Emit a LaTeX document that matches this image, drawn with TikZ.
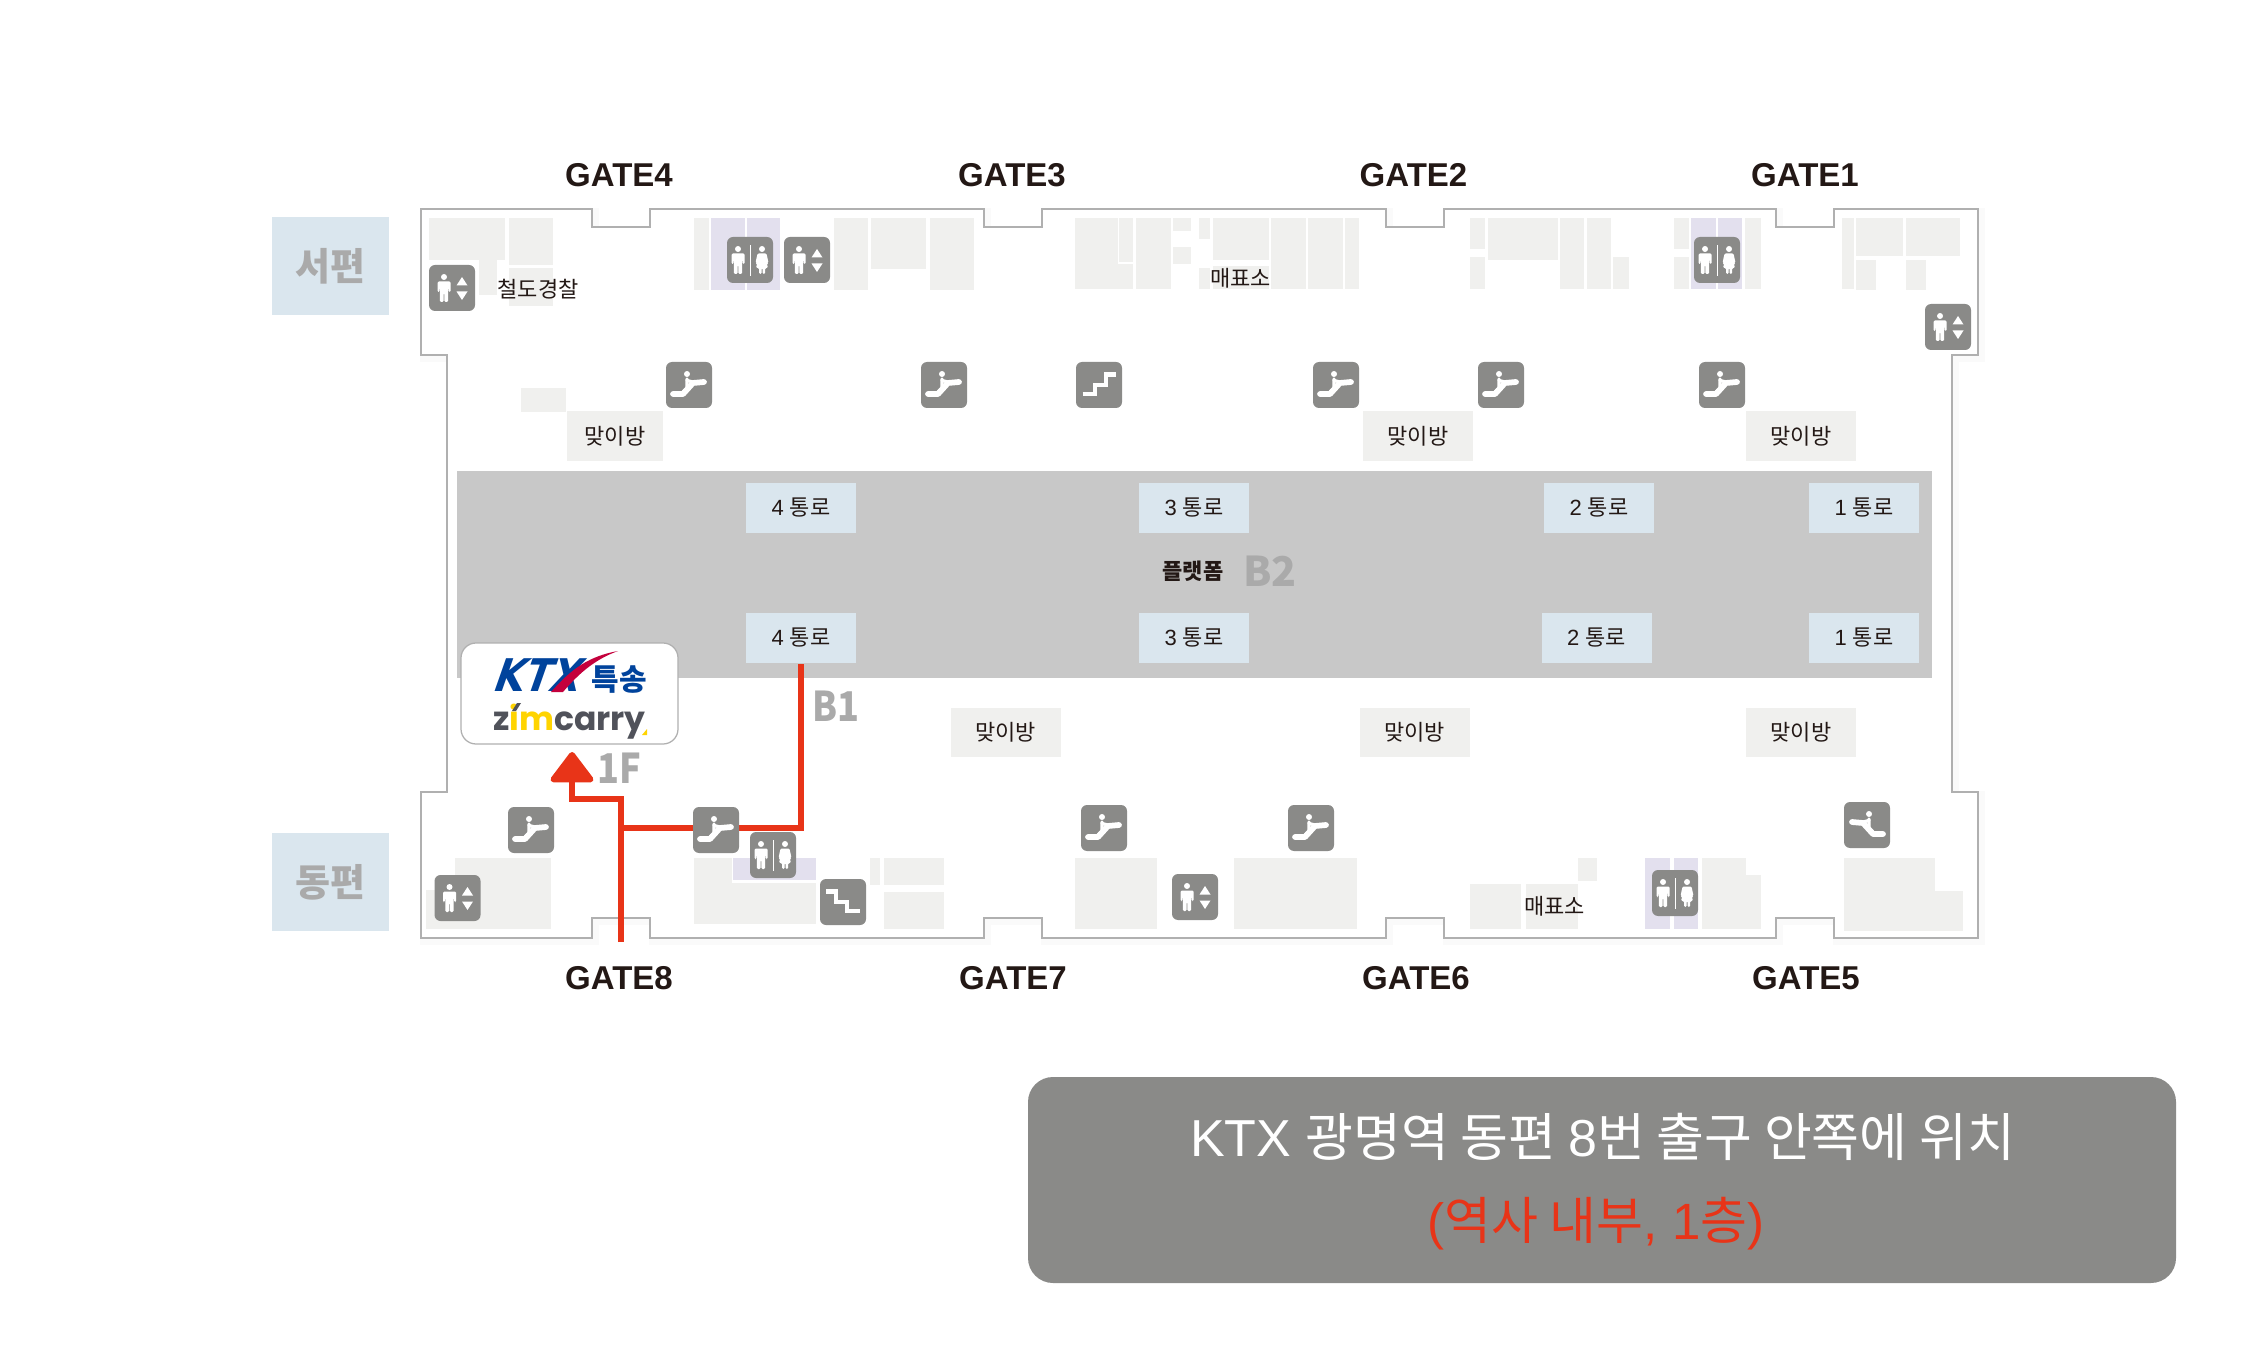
\documentclass[tikz,border=0pt]{standalone}
\usepackage{fontspec}
\setmainfont{Noto Sans CJK KR}
\newfontfamily\logofont{Poppins}
\newfontfamily\latinf{Liberation Sans}
\newfontfamily\heavyf{DejaVu Sans}
\newcommand\lat[1]{{\latinf #1}}
\usetikzlibrary{arrows.meta}
\definecolor{inkc}{HTML}{231815}
\definecolor{blockc}{HTML}{F0F0EE}
\definecolor{wcc}{HTML}{E3E0EE}
\definecolor{platc}{HTML}{C8C8C8}
\definecolor{paleblue}{HTML}{DAE6EE}
\definecolor{iconc}{HTML}{8A8A88}
\definecolor{wallc}{HTML}{B0B0B0}
\definecolor{floorc}{HTML}{AAAAAA}
\definecolor{redc}{HTML}{E83418}
\definecolor{ktxblue}{HTML}{00439C}
\definecolor{ktxred}{HTML}{C4003C}
\definecolor{zimgray}{HTML}{50525A}
\definecolor{zimyellow}{HTML}{FFD400}
\tikzset{
  gatelabel/.style={font=\fontsize{13.2}{15}\latinf\bfseries,text=inkc,inner sep=0pt},
  floorlabel/.style={font=\fontsize{16.4}{18}\selectfont\bfseries,text=floorc,inner sep=0pt},
  sidebox/.style={fill=paleblue,minimum width=46.8pt,minimum height=39.2pt,inner sep=0pt,text=floorc,font=\fontsize{15.2}{17}\selectfont\bfseries},
  corridor/.style={fill=paleblue,minimum width=44pt,minimum height=20pt,inner sep=0pt,text=inkc,font=\fontsize{8.8}{10}\selectfont},
  waitroom/.style={fill=blockc,minimum width=44pt,minimum height=20pt,inner sep=0pt,text=inkc,font=\fontsize{8.8}{10}\selectfont},
  maplabel/.style={inner sep=0pt,text=inkc,font=\fontsize{8.8}{10}\selectfont},
  wall/.style={draw=wallc,line width=0.7pt,fill=white,line join=miter},
  route/.style={draw=redc,line width=2.4pt,line join=miter},
  iconbox/.style={fill=iconc,rounded corners=2.4pt},
  pics/iconesc/.style={code={
    \fill[iconbox] (0,0) rectangle (46,46);
    \fill[white] (21,12) circle (3);
    \draw[white,line width=2.3pt,line cap=round,line join=round] (7,32) -- (17,32) -- (27,21) -- (38,20);
    \draw[white,line width=1.3pt,line cap=round] (21,17) -- (21,26) -- (17,30);
    \draw[white,line width=1.3pt,line cap=round] (21,18.5) -- (27,20);
  }},
  pics/iconstair/.style={code={
    \fill[iconbox] (0,0) rectangle (46,46);
    \draw[white,line width=1.7pt,line join=miter] (6.5,32) -- (19,32) -- (19,23) -- (30,23) -- (30,12.5) -- (40,12.5);
  }},
  pics/iconelev/.style={code={
    \fill[iconbox] (0,0) rectangle (46,46);
    \begin{scope}[shift={(15,0)}]
      \fill[white] (0,12) circle (3);
      \fill[white,rounded corners=0.5pt] (-6.5,16.5) -- (6.5,16.5) -- (6.5,27) -- (4.8,27) -- (4.2,21) -- (4.2,37) -- (0.4,37) -- (0.4,28) -- (-0.4,28) -- (-0.4,37) -- (-4.2,37) -- (-4.2,21) -- (-4.8,27) -- (-6.5,27) -- cycle;
    \end{scope}
    \fill[white] (33,12) -- (38.5,20.5) -- (27.5,20.5) -- cycle;
    \fill[white] (33,35) -- (38.5,26.5) -- (27.5,26.5) -- cycle;
  }},
  pics/iconwc/.style={code={
    \fill[iconbox] (0,0) rectangle (46,46);
    \begin{scope}[shift={(11,0)}]
      \fill[white] (0,12) circle (3);
      \fill[white,rounded corners=0.5pt] (-6.5,16.5) -- (6.5,16.5) -- (6.5,27) -- (4.8,27) -- (4.2,21) -- (4.2,37) -- (0.4,37) -- (0.4,28) -- (-0.4,28) -- (-0.4,37) -- (-4.2,37) -- (-4.2,21) -- (-4.8,27) -- (-6.5,27) -- cycle;
    \end{scope}
    \draw[white,line width=0.4pt] (23,8) -- (23,39);
    \begin{scope}[shift={(35,0)}]
      \fill[white] (0,12) circle (3);
      \fill[white,rounded corners=0.5pt] (-4.5,16.5) -- (4.5,16.5) -- (6.5,26) -- (4.8,26.5) -- (6,31) -- (3,31) -- (3,37) -- (0.5,37) -- (0.5,31) -- (-0.5,31) -- (-0.5,37) -- (-3,37) -- (-3,31) -- (-6,31) -- (-4.8,26.5) -- (-6.5,26) -- cycle;
    \end{scope}
  }}
}
\begin{document}
\begin{tikzpicture}[x=0.4pt,y=-0.4pt]
\useasboundingbox (0,0) rectangle (2250,1350);
\fill[white] (0,0) rectangle (2250,1350);
% outline of the concourse
\def\hallpath{(421,209) -- (592,209) -- (592,227) -- (650,227) -- (650,209) -- (984,209) -- (984,227) -- (1042,227) -- (1042,209) -- (1386,209) -- (1386,227) -- (1444,227) -- (1444,209) -- (1776,209) -- (1776,227) -- (1834,227) -- (1834,209) -- (1978,209) -- (1978,355) -- (1952,355) -- (1952,792) -- (1978,792) -- (1978,938) -- (1834,938) -- (1834,918) -- (1776,918) -- (1776,938) -- (1444,938) -- (1444,918) -- (1386,918) -- (1386,938) -- (1042,938) -- (1042,918) -- (984,918) -- (984,938) -- (650,938) -- (650,918) -- (592,918) -- (592,938) -- (421,938) -- (421,792) -- (447,792) -- (447,355) -- (421,355) -- cycle}
\draw[xshift=1.2pt,yshift=-1.2pt,draw=black!2,line width=3pt] \hallpath;
\draw[wall] \hallpath;
% shop blocks
\foreach \xa/\ya/\xb/\yb in {
  429/218/505/260, 509/218/553/265, 479/260/497/295, 509/268/553/306,
  694/218/709/290, 834/218/868/290, 871/218/926/269, 930/218/974/290,
  521/388/566/412,
  1075/218/1118/289, 1118/264/1133/289, 1119/218/1133/262, 1136/218/1171/289,
  1173/218/1191/231, 1173/247/1191/264, 1199/218/1210/239, 1199/268/1210/289,
  1213/218/1269/260, 1213/266/1269/289, 1271/218/1306/289, 1308/218/1343/289, 1345/218/1359/289,
  1470/218/1485/249, 1470/257/1485/289, 1488/218/1558/260, 1560/218/1584/289,
  1587/218/1611/289, 1613/257/1629/289, 1674/218/1689/249, 1674/257/1689/289,
  1745/218/1761/289, 1842/218/1854/289, 1856/218/1903/256, 1906/218/1960/256,
  1856/260/1876/290, 1906/260/1926/290,
  455/858/551/890, 426/890/551/929, 694/858/732/883, 694/883/816/924,
  870/858/880/885, 884/858/944/885, 884/892/944/929,
  1075/858/1157/929, 1234/858/1357/929, 1470/884/1521/929, 1526/884/1578/929,
  1578/858/1597/881, 1702/858/1746/929, 1746/875/1761/929,
  1844/858/1935/892, 1844/891/1963/931}
  {\fill[blockc] (\xa,\ya) rectangle (\xb,\yb);}
\foreach \xa/\ya/\xb/\yb in {
  711/218/745/290, 747/218/780/290, 1691/218/1716/289, 1718/218/1742/289,
  733/858/816/880, 1645/858/1670/929, 1674/858/1698/929}
  {\fill[wcc] (\xa,\ya) rectangle (\xb,\yb);}
% platform
\fill[platc] (457,471) rectangle (1932,678);
% side labels
\node[sidebox] (west) at (330.5,266) {\raisebox{1pt}{서편}};
\node[sidebox] (east) at (330.5,882) {\raisebox{0.5pt}{동편}};
% gates
\node[gatelabel] (g4) at (619,175.5) {GATE4};
\node[gatelabel] (g3) at (1012,175.5) {GATE3};
\node[gatelabel] (g2) at (1413.5,175.5) {GATE2};
\node[gatelabel] (g1) at (1805,175.5) {GATE1};
\node[gatelabel] (g8) at (619,978.5) {GATE8};
\node[gatelabel] (g7) at (1013,978.5) {GATE7};
\node[gatelabel] (g6) at (1416,978.5) {GATE6};
\node[gatelabel] (g5) at (1806,978.5) {GATE5};
% corridors
\node[corridor] (c4t) at (801,508) {\lat{4 }통로};
\node[corridor] (c3t) at (1194,508) {\lat{3 }통로};
\node[corridor] (c2t) at (1599,508) {\lat{2 }통로};
\node[corridor] (c1t) at (1864,508) {\lat{1 }통로};
\node[corridor] (c4b) at (801,638) {\lat{4 }통로};
\node[corridor] (c3b) at (1194,638) {\lat{3 }통로};
\node[corridor] (c2b) at (1596.5,638) {\lat{2 }통로};
\node[corridor] (c1b) at (1864,638) {\lat{1 }통로};
% waiting rooms
\node[waitroom,minimum width=38.4pt] (w1) at (615,436) {맞이방};
\node[waitroom] (w2) at (1418,436) {맞이방};
\node[waitroom] (w3) at (1801,436) {맞이방};
\node[waitroom,minimum height=19.6pt] (w4) at (1005.5,732.5) {맞이방};
\node[waitroom,minimum height=19.6pt] (w5) at (1414.5,732.5) {맞이방};
\node[waitroom,minimum height=19.6pt] (w6) at (1801,732.5) {맞이방};
% map labels
\node[maplabel] (police) at (538,289) {철도경찰};
\node[maplabel] (tick1) at (1240.5,278) {매표소};
\node[maplabel] (tick2) at (1554.5,906.5) {매표소};
\node[maplabel,font=\fontsize{8.8}{10}\selectfont\bfseries] (plat) at (1193,571) {플랫폼};
\node[floorlabel] (b2) at (1270,571) {B2};
\node[floorlabel,xscale=0.88] (b1) at (836,706) {B1};
\node[floorlabel,xscale=0.88] (f1) at (619,768) {1F};
% route
\coordinate (entry) at (621,942);
\coordinate (turn) at (621,799);
\coordinate (fork) at (621,828);
\coordinate (tip) at (572,752);
\draw[route,-{Triangle[length=13pt,width=19pt,round]}] (entry) -- (turn) -- (turn -| tip) -- (tip);
\draw[route] (fork) -- (fork -| c4b.south) -- (c4b.south);
% icons
\pic (elevw) at (429,265) {iconelev};
\pic (wc1) at (727,237) {iconwc};
\pic (elev2) at (784,237) {iconelev};
\pic (wc2) at (1694,237) {iconwc};
\pic (elev3) at (1925,304) {iconelev};
\pic (esc1) at (666,362) {iconesc};
\pic (esc2) at (921,362) {iconesc};
\pic (st1) at (1076,362) {iconstair};
\pic (esc3) at (1313,362) {iconesc};
\pic (esc4) at (1478,362) {iconesc};
\pic (esc5) at (1699,362) {iconesc};
\pic (esc6) at (508,807) {iconesc};
\pic (esc7) at (693,807) {iconesc};
\pic (wc3) at (750,832) {iconwc};
\pic[xscale=-1] (st2) at (866,879) {iconstair};
\pic (elev4) at (434.5,875) {iconelev};
\pic (esc8) at (1081,805) {iconesc};
\pic (esc9) at (1288,805) {iconesc};
\pic (elev5) at (1172,874) {iconelev};
\pic (wc4) at (1652,870) {iconwc};
\pic[xscale=-1] (esc10) at (1890,802) {iconesc};
% logo card
\node[draw=wallc,line width=0.5pt,fill=white,rounded corners=6pt,minimum width=86.8pt,minimum height=40.4pt,inner sep=0pt] (card) at (569.5,693.5) {};
\node[inner sep=0pt,text=ktxblue,font=\fontsize{18}{20}\heavyf\bfseries,xslant=0.35,xscale=0.86] (ktx) at (540,675.5) {KTX};
\fill[ktxred] (551,692) .. controls (572,668) and (590,656) .. (618,651) .. controls (596,659) and (580,672) .. (563,692) -- cycle;
\node[inner sep=0pt,text=ktxblue,font=\fontsize{12}{14}\selectfont\bfseries] (tk) at (619.5,680) {특송};
\node[inner sep=0pt,text=zimgray,font=\fontsize{13.2}{15}\logofont\bfseries] (zim) at (569.5,722) {z\textcolor{zimyellow}{im}carry};
\fill[zimgray] (512,711) -- (516,711) -- (521,703) -- (517,703) -- cycle;
\fill[zimyellow] (647,735) -- (647,729) -- (642,735) -- cycle;
% note
\node[fill=iconc,rounded corners=10pt,minimum width=459.2pt,minimum height=82.4pt,inner sep=0pt] (note) at (1602,1180) {};
\node[inner sep=0pt,text=white,font=\fontsize{20.8}{26}\selectfont] (n1) at (1602.5,1137) {\lat{KTX }광명역 동편 \lat{8}번 출구 안쪽에 위치};
\node[inner sep=0pt,text=redc,font=\fontsize{20.4}{26}\selectfont] (n2) at (1596,1224) {\lat{(}역사 내부\lat{, 1}층\lat{)}};
\end{tikzpicture}
\end{document}
